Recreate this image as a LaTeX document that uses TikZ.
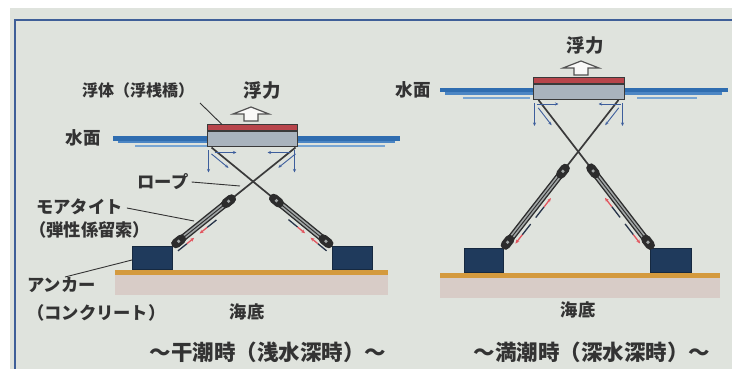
\documentclass[tikz,border=0pt]{standalone}
\usepackage{fontspec}
\setmainfont{Noto Sans CJK JP}
\usetikzlibrary{calc,arrows.meta}
\definecolor{bg}{HTML}{DFE3DD}
\definecolor{framec}{HTML}{3F5F98}
\definecolor{txt}{HTML}{333333}
\definecolor{water}{HTML}{2F6DB0}
\definecolor{water2}{HTML}{4C86C4}
\definecolor{water3}{HTML}{79A6D3}
\definecolor{deckc}{HTML}{B8454B}
\definecolor{bodyc}{HTML}{A9B3BD}
\definecolor{edgec}{HTML}{3A3A3A}
\definecolor{anchorc}{HTML}{1F3A5C}
\definecolor{sandtop}{HTML}{D49A3E}
\definecolor{sand}{HTML}{D8CCC7}
\definecolor{ropec}{HTML}{3A3A3A}
\definecolor{tiedark}{HTML}{2C2C2C}
\definecolor{tielight}{HTML}{A2A7A7}
\definecolor{arrblue}{HTML}{3D5E9C}
\definecolor{arrred}{HTML}{E2555E}
\definecolor{shaftc}{HTML}{27344A}

% elastic mooring tie: striped body with end fittings (#1 = anchor end, #2 = upper end)
\newcommand\drawTie[2]{%
  \draw[line width=7pt, tiedark] (#1) -- (#2);
  \draw[line width=4.2pt, tielight] (#1) -- (#2);
  \draw[line width=0.9pt, tiedark] (#1) -- (#2);
  \draw[line width=9.5pt, tiedark, line cap=round] ($(#1)!3pt!(#2)$) -- ($(#1)!10pt!(#2)$);
  \fill[tielight] ($(#1)!6.5pt!(#2)$) circle (1.8pt);
  \draw[line width=9.5pt, tiedark, line cap=round] ($(#2)!3pt!(#1)$) -- ($(#2)!10pt!(#1)$);
  \fill[tielight] ($(#2)!6.5pt!(#1)$) circle (1.8pt);
  \draw[line width=4pt, tiedark] ($(#2)!-1pt!(#1)$) -- ($(#2)!3pt!(#1)$);
}
% force arrow beside a tie: dark shaft, red head
\newcommand\tieArrow[2]{%
  \draw[line width=1.3pt, shaftc] (#1) -- ($(#1)!0.55!(#2)$);
  \draw[line width=1.3pt, arrred, -{Stealth[length=4pt,width=3.5pt]}] ($(#1)!0.55!(#2)$) -- (#2);
}

\tikzset{
  lbl/.style={text=txt, inner sep=0pt, font=\bfseries\fontsize{17.3}{19}\selectfont},
  captxt/.style={text=txt, inner sep=0pt, font=\bfseries\fontsize{21.5}{23}\selectfont},
  lead/.style={draw=txt, line width=0.9pt},
  floatbody/.style={draw=edgec, fill=bodyc, line width=1pt, inner sep=0pt},
  deckbar/.style={draw=edgec, fill=deckc, line width=1pt, inner sep=0pt},
  anchorbox/.style={fill=anchorc, draw=anchorc!70!black, line width=0.6pt, inner sep=0pt},
  rope/.style={draw=ropec, line width=1.7pt},
  farrow/.style={draw=arrblue, line width=0.9pt, -{Stealth[length=3.5pt,width=3pt]}},
  buoy/.style={draw=txt!85, fill=white!80!bg, line width=1.2pt, line join=miter},
}

\begin{document}
\begin{tikzpicture}[x=1pt,y=-1pt]
\useasboundingbox (0,0) rectangle (732,369);
\fill[white] (0,0) rectangle (732,369);
\fill[bg] (10,8) rectangle (732,369);
\draw[framec, line width=2pt] (15,369) -- (15,20) -- (732,20);

% ================= low tide =================
% sea bed
\fill[sand] (115,275) rectangle (388,295);
\fill[sandtop] (115,270) rectangle (388,275);
% water surface
\fill[water] (113,136.5) rectangle (400,141);
\fill[water2] (118,141) rectangle (395,143.5);
\fill[water3] (135,145) rectangle (207,147);
\fill[water3] (297,145) rectangle (385,147);
% float
\node[floatbody, minimum width=90pt, minimum height=15pt] (floatL) at (252,139.5) {};
\node[deckbar, minimum width=90pt, minimum height=6pt, anchor=south] (deckL) at (floatL.north) {};
% anchors
\node[anchorbox, minimum width=40pt, minimum height=23pt, anchor=south west] (ancL1) at (132,270) {};
\node[anchorbox, minimum width=40pt, minimum height=23pt, anchor=south west] (ancL2) at (332,270) {};
% rope ends
\coordinate (fLl) at ($(floatL.south west)+(5,0)$);
\coordinate (fLr) at ($(floatL.south east)+(-2,0)$);
\coordinate (aL1) at ($(ancL1.north east)+(1,-1)$);
\coordinate (aL2) at ($(ancL2.north west)+(-1,-1)$);
\coordinate (tL1) at ($(aL1)!77pt!(fLr)$);
\coordinate (tL2) at ($(aL2)!77pt!(fLl)$);
\draw[rope] (aL1) -- (fLr);
\draw[rope] (aL2) -- (fLl);
\drawTie{aL1}{tL1}
\drawTie{aL2}{tL2}
% tie forces (contracting)
\tieArrow{$(aL1)!0.64!(tL1)!7pt!-90:(tL1)$}{$(aL1)!0.36!(tL1)!7pt!-90:(tL1)$}
\tieArrow{$(aL1)!0.0!(tL1)!7pt!-90:(tL1)$}{$(aL1)!0.27!(tL1)!7pt!-90:(tL1)$}
\tieArrow{$(aL2)!0.64!(tL2)!7pt!90:(tL2)$}{$(aL2)!0.36!(tL2)!7pt!90:(tL2)$}
\tieArrow{$(aL2)!0.0!(tL2)!7pt!90:(tL2)$}{$(aL2)!0.27!(tL2)!7pt!90:(tL2)$}
% rope force components at the float
\draw[farrow] ($(fLl)+(3,5)$) -- ($(fLl)+(25,5)$);
\draw[farrow] ($(fLr)+(-6,5)$) -- ($(fLr)+(-28,5)$);
\draw[farrow] ($(floatL.south west)+(2,3)$) -- ($(floatL.south west)+(2,25)$);
\draw[farrow] ($(floatL.south east)+(-3,3)$) -- ($(floatL.south east)+(-3,25)$);
\draw[farrow] ($(fLl)!4pt!(tL2)!5pt!-90:(tL2)$) -- ($(fLl)!26pt!(tL2)!5pt!-90:(tL2)$);
\draw[farrow] ($(fLr)!4pt!(tL1)!5pt!90:(tL1)$) -- ($(fLr)!26pt!(tL1)!5pt!90:(tL1)$);
% buoyancy arrow
\draw[buoy, shift={(251,114)}] (0,-7) -- (18,0) -- (7,0) -- (7,7) -- (-7,7) -- (-7,0) -- (-18,0) -- cycle;
% labels
\node[lbl, font=\bfseries\fontsize{16}{18}\selectfont] (lblFloat) at (138,90) {浮体（浮桟橋）};
\node[lbl, font=\bfseries\fontsize{18.5}{20}\selectfont] (lblBuoyL) at (262,90) {浮力};
\node[lbl, font=\bfseries\fontsize{17.5}{19}\selectfont] (lblWaterL) at (83,138) {水面};
\node[lbl] (lblRope) at (163,182) {ロープ};
\node[lbl, anchor=west] (lblTie1) at (36,207) {モアタイト};
\node[lbl, anchor=west] (lblTie2) at (29,230) {（弾性係留索）};
\node[lbl, anchor=west] (lblAnc1) at (27,285) {アンカー};
\node[lbl, anchor=west] (lblAnc2) at (27,313) {（コンクリート）};
\node[lbl] (lblBedL) at (247,312) {海底};
\node[captxt] (capL) at (268,352) {〜干潮時（浅水深時）〜};
% leader lines
\draw[lead] (200,103) -- (deckL.north west -| 222,0);
\draw[lead] (lblRope.east) ++(3,0) -- (240,186);
\draw[lead] (lblTie1.east) ++(4,1) -- (194,221);
\draw[lead] (65,277) -- (ancL1.west |- 0,260);

% ================= high tide =================
\fill[sand] (440,278) rectangle (720,298);
\fill[sandtop] (440,273) rectangle (720,278);
\fill[water] (440,88) rectangle (728,92.5);
\fill[water2] (445,92.5) rectangle (722,95);
\fill[water3] (463,97) rectangle (530,99);
\fill[water3] (637,97) rectangle (697,99);
\node[floatbody, minimum width=91pt, minimum height=15pt] (floatR) at (578.5,92) {};
\node[deckbar, minimum width=91pt, minimum height=6pt, anchor=south] (deckR) at (floatR.north) {};
\node[anchorbox, minimum width=39pt, minimum height=24pt, anchor=south west] (ancR1) at (464,273) {};
\node[anchorbox, minimum width=41pt, minimum height=24pt, anchor=south west] (ancR2) at (650,273) {};
\coordinate (fRl) at ($(floatR.south west)+(6,0)$);
\coordinate (fRr) at ($(floatR.south east)+(-6,0)$);
\coordinate (aR1) at ($(ancR1.north east)+(0,-1)$);
\coordinate (aR2) at ($(ancR2.north west)+(2,-1)$);
\coordinate (tR1) at ($(aR1)!103pt!(fRr)$);
\coordinate (tR2) at ($(aR2)!103pt!(fRl)$);
\draw[rope] (aR1) -- (fRr);
\draw[rope] (aR2) -- (fRl);
\drawTie{aR1}{tR1}
\drawTie{aR2}{tR2}
% tie forces (stretching)
\tieArrow{$(aR1)!0.42!(tR1)!7pt!-90:(tR1)$}{$(aR1)!0.66!(tR1)!7pt!-90:(tR1)$}
\tieArrow{$(aR1)!0.34!(tR1)!7pt!-90:(tR1)$}{$(aR1)!0.10!(tR1)!7pt!-90:(tR1)$}
\tieArrow{$(aR2)!0.42!(tR2)!7pt!90:(tR2)$}{$(aR2)!0.66!(tR2)!7pt!90:(tR2)$}
\tieArrow{$(aR2)!0.34!(tR2)!7pt!90:(tR2)$}{$(aR2)!0.10!(tR2)!7pt!90:(tR2)$}
\draw[farrow] ($(fRl)+(-2,4)$) -- ($(fRl)+(20,4)$);
\draw[farrow] ($(fRr)+(2,4)$) -- ($(fRr)+(-20,4)$);
\draw[farrow] ($(floatR.south west)+(2,3)$) -- ($(floatR.south west)+(2,26)$);
\draw[farrow] ($(floatR.south east)+(-2,3)$) -- ($(floatR.south east)+(-2,26)$);
\draw[farrow] ($(fRl)!6pt!(tR2)!5pt!-90:(tR2)$) -- ($(fRl)!28pt!(tR2)!5pt!-90:(tR2)$);
\draw[farrow] ($(fRr)!6pt!(tR1)!5pt!90:(tR1)$) -- ($(fRr)!28pt!(tR1)!5pt!90:(tR1)$);
\draw[buoy, shift={(581,68)}] (0,-7) -- (18,0) -- (7,0) -- (7,7) -- (-7,7) -- (-7,0) -- (-18,0) -- cycle;
\node[lbl, font=\bfseries\fontsize{18.5}{20}\selectfont] (lblBuoyR) at (585,45) {浮力};
\node[lbl, font=\bfseries\fontsize{17.5}{19}\selectfont] (lblWaterR) at (413,90) {水面};
\node[lbl] (lblBedR) at (578,310) {海底};
\node[captxt] (capR) at (592,352) {〜満潮時（深水深時）〜};
\end{tikzpicture}
\end{document}
